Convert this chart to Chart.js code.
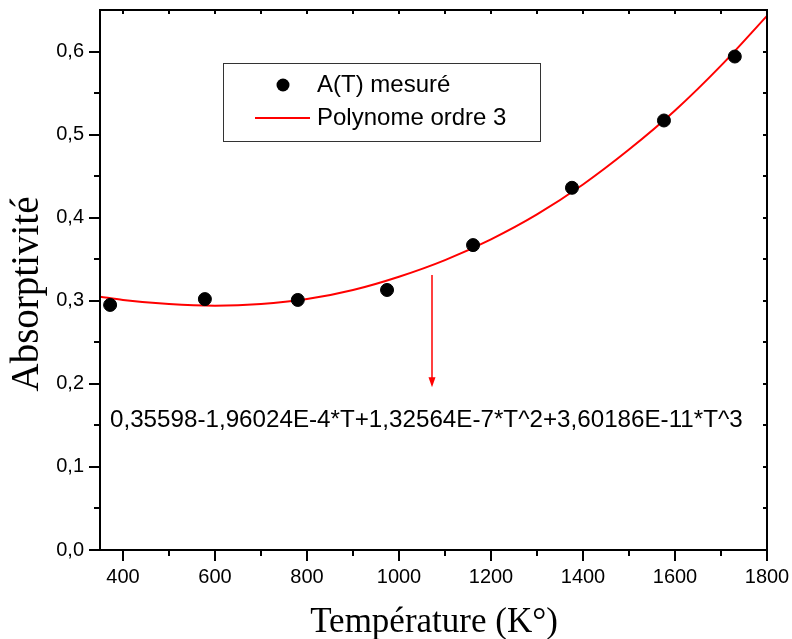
<!DOCTYPE html>
<html lang="fr">
<head>
<meta charset="utf-8">
<title>Absorptivité en fonction de la température</title>
<script src="https://cdn.jsdelivr.net/npm/chart.js@4/dist/chart.umd.min.js"></script>
<style>
  html, body { margin: 0; padding: 0; background: #fff; }
  #cadre { position: relative; width: 792px; height: 639px; }
</style>
</head>
<body>
<div id="cadre"><canvas id="graphe"></canvas></div>
<script>
// Points mesurés A(T)
const tempMesure = [372, 578, 780, 974, 1161, 1376, 1576, 1730];
const absMesure = [0.295, 0.302, 0.301, 0.313, 0.367, 0.436, 0.517, 0.594];

// Courbe d'ajustement (polynôme d'ordre 3)
const tempFit = [350, 400, 500, 600, 700, 800, 900, 1000, 1100, 1200, 1300, 1400, 1500, 1600, 1700, 1800];
const absFit = [0.305, 0.301, 0.296, 0.294, 0.296, 0.302, 0.313, 0.329, 0.349, 0.374, 0.404, 0.440, 0.482, 0.529, 0.583, 0.643];

// Graduations
const xTicks = [400, 600, 800, 1000, 1200, 1400, 1600, 1800];
const xMinor = [500, 700, 900, 1100, 1300, 1500, 1700];
const yTicks = [0.0, 0.1, 0.2, 0.3, 0.4, 0.5, 0.6];
const yMinor = [0.05, 0.15, 0.25, 0.35, 0.45, 0.55];

// Annotation
const equation = '0,35598-1,96024E-4*T+1,32564E-7*T^2+3,60186E-11*T^3';
const flecheT = 1072;
const flecheHaut = 0.331;
const flecheBas = 0.196;

const titreX = 'Température (K°)';
const titreY = 'Absorptivité';

const SANS = "'Liberation Sans', Arial, sans-serif";
const SERIF = "'Liberation Serif', 'Times New Roman', serif";

Chart.defaults.font.family = SANS;
Chart.defaults.color = '#000';

function virgule(v) {
    return v.toFixed(1).replace('.', ',');
}

// pas de marge automatique autour des axes
function sansMarge(s) {
    s.paddingTop = 0;
    s.paddingBottom = 0;
    s.paddingLeft = 0;
    s.paddingRight = 0;
}

// cadre, graduations, légende, flèche et titres
const habillage = {
    id: 'habillage',
    afterDraw(chart) {
        const ctx = chart.ctx;
        const { left, right, top, bottom } = chart.chartArea;
        const sx = chart.scales.x;
        const sy = chart.scales.y;

        ctx.save();
        ctx.strokeStyle = '#000';
        ctx.lineWidth = 2;
        ctx.strokeRect(left, top, right - left, bottom - top);

        ctx.beginPath();
        xTicks.forEach(v => {
            const px = Math.round(sx.getPixelForValue(v));
            ctx.moveTo(px, bottom); ctx.lineTo(px, bottom + 11);
        });
        xMinor.forEach(v => {
            const px = Math.round(sx.getPixelForValue(v));
            ctx.moveTo(px, bottom); ctx.lineTo(px, bottom + 6);
        });
        yTicks.forEach(v => {
            const py = Math.round(sy.getPixelForValue(v));
            ctx.moveTo(left, py); ctx.lineTo(left - 11, py);
        });
        yMinor.forEach(v => {
            const py = Math.round(sy.getPixelForValue(v));
            ctx.moveTo(left, py); ctx.lineTo(left - 6, py);
        });
        // petites graduations intérieures en haut et à droite
        xTicks.concat(xMinor).forEach(v => {
            const px = Math.round(sx.getPixelForValue(v));
            ctx.moveTo(px, top); ctx.lineTo(px, top + 4);
        });
        yTicks.concat(yMinor).forEach(v => {
            const py = Math.round(sy.getPixelForValue(v));
            ctx.moveTo(right, py); ctx.lineTo(right - 4, py);
        });
        ctx.stroke();

        // flèche rouge
        const fx = Math.round(sx.getPixelForValue(flecheT));
        const fy1 = sy.getPixelForValue(flecheHaut);
        const fy2 = sy.getPixelForValue(flecheBas);
        ctx.strokeStyle = '#ff0000';
        ctx.fillStyle = '#ff0000';
        ctx.lineWidth = 1.5;
        ctx.beginPath();
        ctx.moveTo(fx, fy1); ctx.lineTo(fx, fy2 - 8);
        ctx.stroke();
        ctx.beginPath();
        ctx.moveTo(fx - 3.5, fy2 - 10);
        ctx.lineTo(fx + 3.5, fy2 - 10);
        ctx.lineTo(fx, fy2);
        ctx.closePath();
        ctx.fill();

        // équation
        ctx.fillStyle = '#000';
        ctx.font = '24.2px ' + SANS;
        ctx.textAlign = 'left';
        ctx.textBaseline = 'alphabetic';
        ctx.fillText(equation, left + 10, bottom - 123);

        // légende
        const lx = left + 123, ly = top + 53, lw = 317, lh = 78;
        ctx.strokeStyle = '#333';
        ctx.lineWidth = 1;
        ctx.strokeRect(lx + 0.5, ly + 0.5, lw, lh);
        const ds = chart.data.datasets;
        ctx.font = '24px ' + SANS;
        ctx.fillStyle = ds[0].backgroundColor;
        ctx.beginPath();
        ctx.arc(lx + 60, ly + 22, 6.5, 0, Math.PI * 2);
        ctx.fill();
        ctx.strokeStyle = ds[1].borderColor;
        ctx.lineWidth = 2;
        ctx.beginPath();
        ctx.moveTo(lx + 32, ly + 55); ctx.lineTo(lx + 87, ly + 55);
        ctx.stroke();
        ctx.fillStyle = '#000';
        ctx.textBaseline = 'middle';
        ctx.fillText(ds[0].label, lx + 94, ly + 22);
        ctx.fillText(ds[1].label, lx + 94, ly + 55);

        // titres des axes
        ctx.textBaseline = 'alphabetic';
        ctx.textAlign = 'center';
        ctx.font = '35px ' + SERIF;
        ctx.fillText(titreX, 434, 632);
        ctx.translate(38, 294);
        ctx.rotate(-Math.PI / 2);
        ctx.font = '39px ' + SERIF;
        ctx.fillText(titreY, 0, 0);
        ctx.restore();
    }
};

new Chart(document.getElementById('graphe'), {
    type: 'scatter',
    data: {
        datasets: [
            {
                label: 'A(T) mesuré',
                data: tempMesure.map((t, i) => ({ x: t, y: absMesure[i] })),
                backgroundColor: '#000',
                borderColor: '#000',
                pointRadius: 6.5,
                pointHoverRadius: 6.5,
                order: 1
            },
            {
                label: 'Polynome ordre 3',
                data: tempFit.map((t, i) => ({ x: t, y: absFit[i] })),
                showLine: true,
                borderColor: '#ff0000',
                backgroundColor: '#ff0000',
                borderWidth: 2,
                pointRadius: 0,
                cubicInterpolationMode: 'monotone',
                order: 2
            }
        ]
    },
    options: {
        responsive: true,
        maintainAspectRatio: false,
        animation: false,
        events: [],
        layout: { padding: { left: 0, right: 25, top: 10, bottom: 0 } },
        plugins: {
            legend: { display: false },
            tooltip: { enabled: false }
        },
        scales: {
            x: {
                type: 'linear',
                min: 350,
                max: 1800,
                grid: { display: false, drawTicks: false },
                border: { display: false },
                afterBuildTicks: s => { s.ticks = xTicks.map(v => ({ value: v })); },
                afterFit: s => { s.height = 89; sansMarge(s); },
                ticks: {
                    padding: 15,
                    maxRotation: 0,
                    font: { size: 20 },
                    callback: v => String(v)
                }
            },
            y: {
                type: 'linear',
                min: 0,
                max: 0.65,
                grid: { display: false, drawTicks: false },
                border: { display: false },
                afterBuildTicks: s => { s.ticks = yTicks.map(v => ({ value: v })); },
                afterFit: s => { s.width = 100; sansMarge(s); },
                ticks: {
                    padding: 16,
                    font: { size: 20 },
                    callback: v => virgule(v)
                }
            }
        }
    },
    plugins: [habillage]
});
</script>
</body>
</html>
